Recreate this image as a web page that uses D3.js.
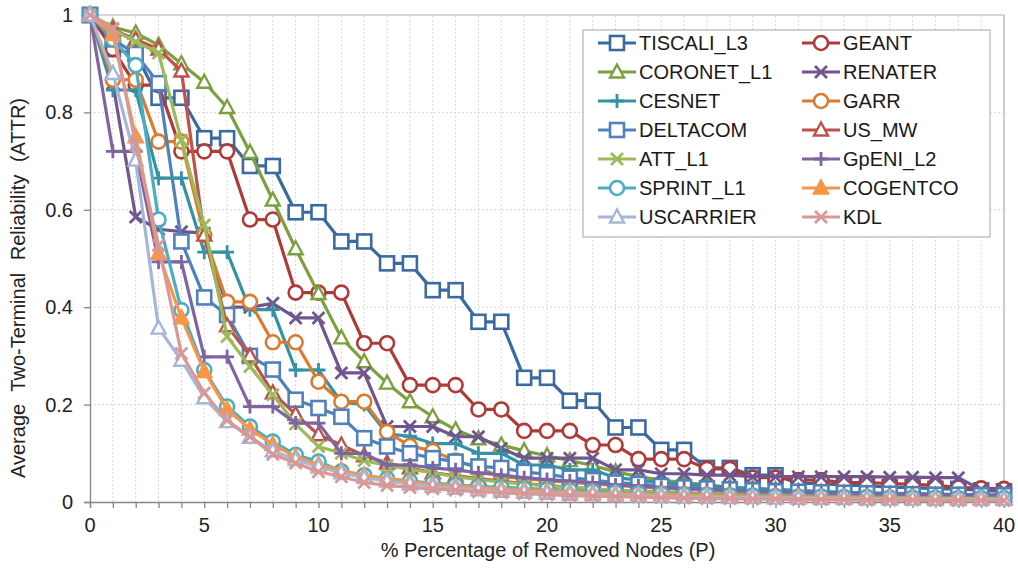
<!DOCTYPE html>
<html lang="en">
<head>
  <meta charset="UTF-8" />
  <title>Average Two-Terminal Reliability</title>
  <script src="https://d3js.org/d3.v7.min.js"></script>
  <style>
    body {
      margin: 0;
      background: #fff;
      font-family: 'Liberation Sans', Arial, sans-serif;
    }
    .grid line {
      stroke: #d9d9d9;
      stroke-dasharray: 2 2;
    }
    .tick-label {
      font-size: 20px;
      fill: #222;
    }
    .legend-label {
      font-size: 20px;
      fill: #1a1a1a;
    }
  </style>
</head>
<body>
<svg width="1018" height="569"></svg>
<script>
const xValues = d3.range(0, 41);
const xTicks = [0, 5, 10, 15, 20, 25, 30, 35, 40];
const yTicks = [0, 0.2, 0.4, 0.6, 0.8, 1];

const seriesNames = ["TISCALI_L3", "GEANT", "CORONET_L1", "RENATER", "CESNET", "GARR", "DELTACOM",
  "US_MW", "ATT_L1", "GpENI_L2", "SPRINT_L1", "COGENTCO", "USCARRIER", "KDL"];

const tiscali = [1, 0.93, 0.92, 0.83, 0.83, 0.747, 0.747, 0.69, 0.69, 0.595, 0.595, 0.535, 0.535, 0.49, 0.49, 0.435, 0.435, 0.37, 0.37, 0.255, 0.255, 0.208, 0.208, 0.153, 0.153, 0.107, 0.107, 0.07, 0.07, 0.055, 0.055, 0.038, 0.038, 0.034, 0.034, 0.03, 0.03, 0.027, 0.027, 0.024, 0.022];
const geant = [1, 0.93, 0.856, 0.856, 0.72, 0.72, 0.72, 0.58, 0.58, 0.43, 0.43, 0.43, 0.326, 0.326, 0.24, 0.24, 0.24, 0.19, 0.19, 0.146, 0.146, 0.146, 0.117, 0.117, 0.088, 0.088, 0.088, 0.068, 0.068, 0.05, 0.05, 0.045, 0.045, 0.04, 0.04, 0.038, 0.036, 0.034, 0.03, 0.028, 0.027];
const coronet = [1, 0.975, 0.963, 0.938, 0.9, 0.862, 0.81, 0.718, 0.62, 0.52, 0.428, 0.337, 0.288, 0.244, 0.206, 0.175, 0.148, 0.13, 0.117, 0.105, 0.095, 0.085, 0.075, 0.062, 0.052, 0.045, 0.04, 0.035, 0.03, 0.027, 0.025, 0.022, 0.02, 0.018, 0.017, 0.016, 0.015, 0.014, 0.013, 0.012, 0.012];
const renater = [1, 0.86, 0.585, 0.56, 0.555, 0.552, 0.4, 0.4, 0.408, 0.378, 0.378, 0.265, 0.265, 0.155, 0.155, 0.155, 0.134, 0.134, 0.11, 0.09, 0.09, 0.09, 0.09, 0.066, 0.066, 0.058, 0.058, 0.055, 0.055, 0.052, 0.052, 0.052, 0.052, 0.052, 0.052, 0.051, 0.051, 0.05, 0.05, 0.025, 0.025];
const cesnet = [1, 0.846, 0.846, 0.665, 0.665, 0.513, 0.513, 0.395, 0.395, 0.271, 0.271, 0.205, 0.2, 0.14, 0.135, 0.12, 0.12, 0.1, 0.1, 0.076, 0.076, 0.066, 0.066, 0.05, 0.045, 0.04, 0.036, 0.033, 0.03, 0.028, 0.026, 0.024, 0.022, 0.02, 0.019, 0.018, 0.017, 0.016, 0.015, 0.014, 0.013];
const garr = [1, 0.867, 0.867, 0.74, 0.74, 0.548, 0.411, 0.411, 0.328, 0.328, 0.247, 0.206, 0.206, 0.144, 0.115, 0.105, 0.085, 0.07, 0.052, 0.048, 0.044, 0.04, 0.037, 0.034, 0.031, 0.028, 0.026, 0.024, 0.022, 0.02, 0.019, 0.018, 0.017, 0.016, 0.015, 0.014, 0.013, 0.012, 0.012, 0.011, 0.011];
const deltacom = [1, 0.95, 0.92, 0.86, 0.535, 0.42, 0.384, 0.3, 0.272, 0.21, 0.193, 0.175, 0.131, 0.114, 0.1, 0.09, 0.083, 0.073, 0.07, 0.062, 0.057, 0.05, 0.045, 0.04, 0.037, 0.033, 0.03, 0.028, 0.026, 0.024, 0.022, 0.021, 0.02, 0.019, 0.018, 0.017, 0.016, 0.015, 0.015, 0.014, 0.014];
const usmw = [1, 0.97, 0.95, 0.93, 0.885, 0.548, 0.362, 0.3, 0.224, 0.18, 0.138, 0.117, 0.095, 0.08, 0.07, 0.06, 0.054, 0.048, 0.043, 0.038, 0.034, 0.03, 0.027, 0.024, 0.022, 0.02, 0.018, 0.016, 0.015, 0.014, 0.013, 0.012, 0.011, 0.01, 0.01, 0.009, 0.009, 0.008, 0.008, 0.007, 0.007];
const att = [1, 0.97, 0.945, 0.922, 0.743, 0.569, 0.34, 0.278, 0.22, 0.16, 0.114, 0.1, 0.085, 0.075, 0.067, 0.06, 0.052, 0.046, 0.041, 0.037, 0.033, 0.03, 0.027, 0.024, 0.022, 0.02, 0.018, 0.016, 0.015, 0.014, 0.013, 0.012, 0.011, 0.01, 0.01, 0.009, 0.009, 0.008, 0.008, 0.007, 0.007];
const gpeni = [1, 0.72, 0.72, 0.493, 0.493, 0.298, 0.298, 0.196, 0.196, 0.162, 0.162, 0.1, 0.1, 0.076, 0.076, 0.07, 0.066, 0.06, 0.055, 0.05, 0.046, 0.043, 0.04, 0.035, 0.033, 0.03, 0.028, 0.026, 0.024, 0.022, 0.021, 0.02, 0.019, 0.018, 0.017, 0.016, 0.016, 0.015, 0.015, 0.014, 0.014];
const sprint = [1, 0.95, 0.897, 0.58, 0.394, 0.271, 0.196, 0.155, 0.124, 0.097, 0.083, 0.063, 0.055, 0.048, 0.043, 0.039, 0.035, 0.032, 0.03, 0.028, 0.026, 0.024, 0.022, 0.02, 0.018, 0.017, 0.016, 0.015, 0.014, 0.013, 0.012, 0.011, 0.011, 0.01, 0.01, 0.009, 0.009, 0.009, 0.008, 0.008, 0.008];
const cogentco = [1, 0.96, 0.75, 0.51, 0.378, 0.268, 0.19, 0.15, 0.118, 0.093, 0.077, 0.065, 0.055, 0.048, 0.042, 0.037, 0.033, 0.03, 0.027, 0.025, 0.023, 0.021, 0.019, 0.017, 0.016, 0.015, 0.014, 0.013, 0.012, 0.011, 0.01, 0.01, 0.009, 0.009, 0.008, 0.008, 0.008, 0.007, 0.007, 0.007, 0.006];
const uscarrier = [1, 0.88, 0.702, 0.357, 0.291, 0.214, 0.165, 0.133, 0.105, 0.087, 0.072, 0.06, 0.05, 0.043, 0.037, 0.032, 0.028, 0.025, 0.022, 0.02, 0.018, 0.016, 0.015, 0.013, 0.012, 0.011, 0.01, 0.01, 0.009, 0.009, 0.008, 0.008, 0.007, 0.007, 0.006, 0.006, 0.006, 0.005, 0.005, 0.005, 0.005];
const kdl = [1, 0.973, 0.733, 0.527, 0.305, 0.224, 0.168, 0.134, 0.098, 0.08, 0.062, 0.052, 0.04, 0.034, 0.03, 0.027, 0.024, 0.021, 0.019, 0.017, 0.015, 0.013, 0.012, 0.011, 0.01, 0.009, 0.008, 0.007, 0.007, 0.006, 0.006, 0.005, 0.005, 0.005, 0.004, 0.004, 0.004, 0.003, 0.003, 0.003, 0.003];

const seriesValues = [tiscali, geant, coronet, renater, cesnet, garr, deltacom,
  usmw, att, gpeni, sprint, cogentco, uscarrier, kdl];

const colors = ["#3b6aa0", "#ae3b37", "#7ba03f", "#71558f", "#3592a4", "#da7b2f", "#4f81bd",
  "#c0504d", "#9bbb59", "#8064a2", "#4bacc6", "#f79646", "#a5b6d8", "#d99795"];
const markers = ["square", "circle", "triangle", "x", "plus", "circle", "square",
  "triangle", "x", "plus", "circle", "filledTriangle", "triangle", "x"];

const svg = d3.select("svg");
const x = d3.scaleLinear().domain([0, 40]).range([90, 1004]);
const y = d3.scaleLinear().domain([0, 1]).range([502, 15]);

// grid
const grid = svg.append("g").attr("class", "grid");
grid.selectAll("line.v").data(d3.range(1, 40)).enter().append("line")
  .attr("x1", d => x(d)).attr("x2", d => x(d)).attr("y1", y(0)).attr("y2", y(1));
grid.selectAll("line.h").data([0.2, 0.4, 0.6, 0.8]).enter().append("line")
  .attr("x1", x(0)).attr("x2", x(40)).attr("y1", d => y(d)).attr("y2", d => y(d));

// frame top/right
svg.append("path")
  .attr("d", `M${x(0)},${y(1)}H${x(40)}V${y(0)}`)
  .attr("fill", "none").attr("stroke", "#b0b0b0").attr("stroke-width", 1.2);

// axes
const xAxis = svg.append("g").attr("transform", `translate(0,${y(0)})`)
  .call(d3.axisBottom(x).tickValues(xValues).tickSize(6).tickFormat(""));
const yAxis = svg.append("g").attr("transform", `translate(${x(0)},0)`)
  .call(d3.axisLeft(y).tickValues(yTicks).tickSize(6).tickFormat(""));
[xAxis, yAxis].forEach(a => {
  a.selectAll("path, line").attr("stroke", "#868686").attr("stroke-width", 1.3);
});

svg.selectAll("text.xt").data(xTicks).enter().append("text")
  .attr("class", "tick-label").attr("x", d => x(d)).attr("y", 532)
  .attr("text-anchor", "middle").text(d => d);
svg.selectAll("text.yt").data(yTicks).enter().append("text")
  .attr("class", "tick-label").attr("x", 73).attr("y", d => y(d) + 7)
  .attr("text-anchor", "end").text(d => d3.format("~g")(d));

svg.append("text").attr("class", "tick-label")
  .attr("x", 548).attr("y", 557).attr("text-anchor", "middle")
  .text("% Percentage of Removed Nodes (P)");
svg.append("text").attr("class", "tick-label")
  .attr("transform", "translate(25,478) rotate(-90)")
  .attr("text-anchor", "start")
  .style("word-spacing", "7px")
  .text("Average Two-Terminal Reliability (ATTR)");

function drawMarker(g, type, color) {
  const open = "#fff";
  if (type === "square") {
    g.append("rect").attr("x", -7).attr("y", -7).attr("width", 14).attr("height", 14)
      .attr("fill", open).attr("stroke", color).attr("stroke-width", 2.6);
  } else if (type === "circle") {
    g.append("circle").attr("r", 7)
      .attr("fill", open).attr("stroke", color).attr("stroke-width", 2.6);
  } else if (type === "triangle" || type === "filledTriangle") {
    g.append("path").attr("d", "M0,-7.5L7,5.5L-7,5.5Z")
      .attr("fill", type === "triangle" ? open : color)
      .attr("stroke", color).attr("stroke-width", 2.4);
  } else if (type === "x") {
    g.append("path").attr("d", "M-6,-6L6,6M-6,6L6,-6")
      .attr("stroke", color).attr("stroke-width", 2.8);
  } else if (type === "plus") {
    g.append("path").attr("d", "M-7,0H7M0,-7V7")
      .attr("stroke", color).attr("stroke-width", 2.8);
  }
}

const line = d3.line().x((d, i) => x(xValues[i])).y(d => y(d));

seriesValues.forEach((vals, s) => {
  const g = svg.append("g");
  g.append("path").attr("d", line(vals))
    .attr("fill", "none").attr("stroke", colors[s])
    .attr("stroke-width", 3.2).attr("stroke-linejoin", "round");
  vals.forEach((v, i) => {
    const m = g.append("g").attr("transform", `translate(${x(xValues[i])},${y(v)})`);
    drawMarker(m, markers[s], colors[s]);
  });
});

// legend
const legend = svg.append("g");
legend.append("rect").attr("x", 583).attr("y", 30).attr("width", 407).attr("height", 207)
  .attr("fill", "#fff").attr("stroke", "#a6a6a6").attr("stroke-width", 1);
seriesNames.forEach((name, s) => {
  const col = s % 2, row = Math.floor(s / 2);
  const lx = col === 0 ? 598 : 802;
  const ly = 43 + row * 29;
  const item = legend.append("g");
  item.append("line").attr("x1", lx).attr("x2", lx + 38).attr("y1", ly).attr("y2", ly)
    .attr("stroke", colors[s]).attr("stroke-width", 3.2);
  drawMarker(item.append("g").attr("transform", `translate(${lx + 19},${ly})`), markers[s], colors[s]);
  item.append("text").attr("class", "legend-label")
    .attr("x", lx + 41).attr("y", ly + 7).text(name);
});
</script>
</body>
</html>
